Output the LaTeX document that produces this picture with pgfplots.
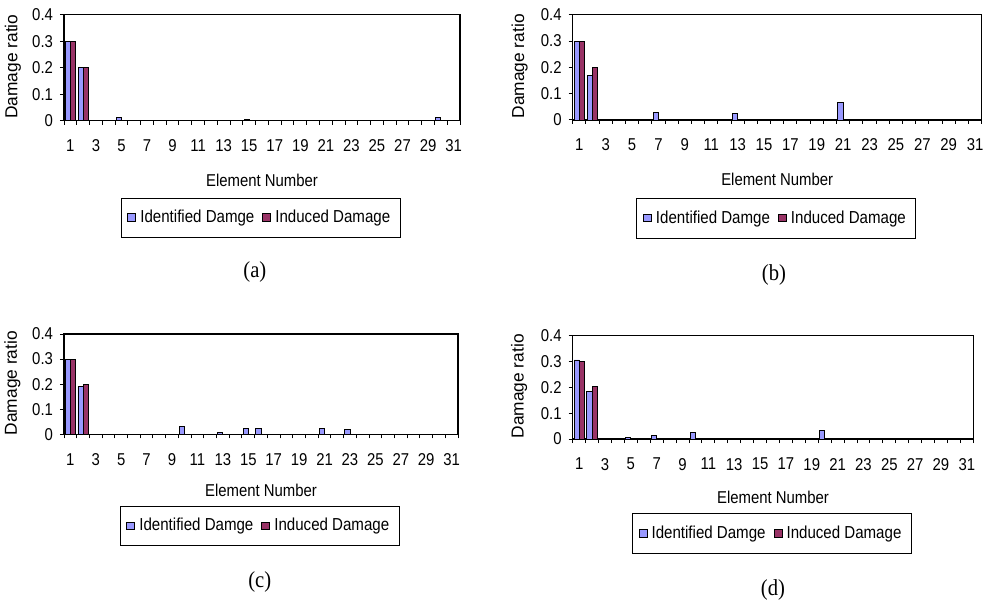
\documentclass[border=0pt]{standalone}
\usepackage{pgfplots}
\pgfplotsset{compat=1.18}
\usepackage{fontspec}
\setmainfont{Liberation Sans}
\newfontfamily\nsans[FakeStretch=0.87]{Liberation Sans}
\newfontfamily\timesf[FakeStretch=0.9]{Liberation Serif}
\definecolor{idc}{HTML}{9999FF}
\definecolor{inc}{HTML}{993366}
\pgfplotsset{dmg/.style={
  scale only axis, clip=false,
  ybar=0pt, bar width=0.4,
  xmin=0.5, xmax=31.5, ymin=0, ymax=0.4,
  xtick={0.5,1.5,...,31.5}, x tick label as interval,
  xticklabels={1,,3,,5,,7,,9,,11,,13,,15,,17,,19,,21,,23,,25,,27,,29,,31},
  ytick={0,0.1,0.2,0.3,0.4}, yticklabels={0,0.1,0.2,0.3,0.4},
  xtick pos=left, ytick pos=left,
  tick align=outside, major tick length=2bp,
  tick style={black, line width=0.5bp},
  axis line style={line width=0.6bp},
  tick label style={font=\nsans\fontsize{8.6}{9}\selectfont},
  xticklabel style={yshift=-4bp},
  xlabel={Element Number}, ylabel={Damage ratio},
  legend columns=2,
  legend style={draw=black, line width=0.5bp, font=\nsans\fontsize{8.7}{9}\selectfont,
    anchor=center, inner xsep=3bp, inner ysep=4bp,
    /tikz/every even column/.append style={column sep=2bp}},
  legend image code/.code={\draw[#1,draw=black,line width=0.5bp] (0bp,-1.8bp) rectangle (4bp,2bp);},
  idp/.style={fill=idc, draw=black, line width=0.45bp},
  inp/.style={fill=inc, draw=black, line width=0.45bp},
}}
\newcommand{\sublab}{\timesf\fontsize{11.5}{13}\selectfont}
\newcommand{\xlf}{\nsans\fontsize{8.6}{9}\selectfont}
\newcommand{\ylf}{\fontsize{8.7}{9}\selectfont}
\begin{document}
\begin{tikzpicture}
\useasboundingbox (0bp,0bp) rectangle (495.5bp,301.5bp);
% (a)
\begin{axis}[dmg, at={(32bp,241.15bp)}, anchor=south west,
  width=198bp, height=53bp,
  xlabel style={at={(axis description cs:0.5,-0.564)}, anchor=center, font=\xlf},
  ylabel style={at={(axis description cs:-0.129,0.51)}, anchor=center, font=\ylf},
  legend style={at={(axis description cs:0.497,-0.916)}}]
\addplot[idp] coordinates {(1,0.30) (2,0.20) (5,0.012) (15,0.005) (30,0.012)};
\addplot[inp] coordinates {(1,0.30) (2,0.20)};
\legend{Identified Damge, Induced Damage}
\node[font=\sublab] at (axis description cs:0.482,-1.429) {(a)};
\end{axis}
% (b)
\begin{axis}[dmg, at={(286.35bp,241.5bp)}, anchor=south west,
  width=204.5bp, height=52.65bp,
  xlabel style={at={(axis description cs:0.5,-0.563)}, anchor=center, font=\xlf},
  ylabel style={at={(axis description cs:-0.13,0.51)}, anchor=center, font=\ylf},
  legend style={at={(axis description cs:0.498,-0.934)}}]
\addplot[idp] coordinates {(1,0.30) (2,0.168) (7,0.029) (13,0.023) (21,0.066)};
\addplot[inp] coordinates {(1,0.30) (2,0.20)};
\legend{Identified Damge, Induced Damage}
\node[font=\sublab] at (axis description cs:0.492,-1.472) {(b)};
\end{axis}
% (c)
\begin{axis}[dmg, at={(32bp,84.35bp)}, anchor=south west,
  width=197bp, height=50.15bp,
  xlabel style={at={(axis description cs:0.5,-0.555)}, anchor=center, font=\xlf},
  ylabel style={at={(axis description cs:-0.131,0.51)}, anchor=center, font=\ylf},
  legend style={at={(axis description cs:0.497,-0.916)}}]
\addplot[idp] coordinates {(1,0.30) (2,0.189) (10,0.032) (13,0.006) (15,0.025) (16,0.025) (21,0.025) (23,0.02)};
\addplot[inp] coordinates {(1,0.30) (2,0.20)};
\legend{Identified Damge, Induced Damage}
\node[font=\sublab] at (axis description cs:0.497,-1.47) {(c)};
\end{axis}
% (d)
\begin{axis}[dmg, at={(286.35bp,82bp)}, anchor=south west,
  width=200.3bp, height=51.65bp,
  xlabel style={at={(axis description cs:0.5,-0.561)}, anchor=center, font=\xlf},
  ylabel style={at={(axis description cs:-0.134,0.51)}, anchor=center, font=\ylf},
  legend style={at={(axis description cs:0.4975,-0.917)}}]
\addplot[idp] coordinates {(1,0.306) (2,0.183) (5,0.006) (7,0.013) (10,0.026) (20,0.032)};
\addplot[inp] coordinates {(1,0.299) (2,0.203)};
\legend{Identified Damge, Induced Damage}
\node[font=\sublab] at (axis description cs:0.5,-1.462) {(d)};
\end{axis}
\end{tikzpicture}
\end{document}
